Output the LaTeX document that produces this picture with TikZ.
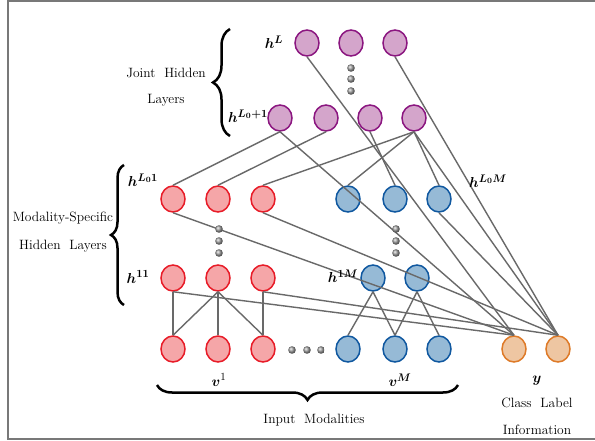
\documentclass[tikz,border=0pt]{standalone}
\usepackage{bm}
\usetikzlibrary{decorations.pathreplacing,shapes.geometric}
\definecolor{jfill}{RGB}{212,165,203}
\definecolor{jdraw}{RGB}{139,22,128}
\definecolor{rfill}{RGB}{245,166,168}
\definecolor{rdraw}{RGB}{232,28,40}
\definecolor{bfill}{RGB}{150,186,214}
\definecolor{bdraw}{RGB}{16,88,160}
\definecolor{ofill}{RGB}{238,198,162}
\definecolor{odraw}{RGB}{222,122,40}
\definecolor{lgray}{RGB}{105,105,105}
\definecolor{fgray}{RGB}{120,120,120}
\begin{document}
\begin{tikzpicture}[x=1pt,y=-1pt,
  neuron/.style={ellipse, minimum width=24pt, minimum height=26pt, line width=1.5pt, inner sep=0pt},
  jnode/.style={neuron, draw=jdraw, fill=jfill},
  rnode/.style={neuron, draw=rdraw, fill=rfill},
  bnode/.style={neuron, draw=bdraw, fill=bfill},
  onode/.style={neuron, draw=odraw, fill=ofill},
  conn/.style={draw=lgray, line width=1.4pt},
  dotball/.style={ball color=gray!75},
  txt/.style={font=\fontsize{13.5}{16}\selectfont, inner sep=0pt},
  mlab/.style={font=\fontsize{15.5}{18}\selectfont, inner sep=0pt},
  bracepath/.style={decorate, decoration={brace, amplitude=#1}, line width=2.5pt}
]
\useasboundingbox (0,0) rectangle (595,441);
\fill[white] (0,0) rectangle (595,441);
\draw[fgray, line width=2.2pt] (598,1.3) -- (8.3,1.3) -- (8.3,439.3) -- (598,439.3);

% joint layers
\node[jnode] (j1a) at (307,43) {};
\node[jnode] (j1b) at (351,43) {};
\node[jnode] (j1c) at (395,43) {};
\node[jnode] (j2a) at (280,118) {};
\node[jnode] (j2b) at (326,118) {};
\node[jnode] (j2c) at (370,118) {};
\node[jnode] (j2d) at (414,118) {};
% modality-specific top
\node[rnode] (r1a) at (173,199) {};
\node[rnode] (r1b) at (218,199) {};
\node[rnode] (r1c) at (263,199) {};
\node[bnode] (b1a) at (348,199) {};
\node[bnode] (b1b) at (395,199) {};
\node[bnode] (b1c) at (439,199) {};
% modality-specific bottom
\node[rnode] (rla) at (173,278) {};
\node[rnode] (rlb) at (218,278) {};
\node[rnode] (rlc) at (263,278) {};
\node[bnode] (bla) at (373,278) {};
\node[bnode] (blb) at (417,278) {};
% inputs
\node[rnode] (ria) at (173,349) {};
\node[rnode] (rib) at (218,349) {};
\node[rnode] (ric) at (263,349) {};
\node[bnode] (bia) at (348,349) {};
\node[bnode] (bib) at (395,349) {};
\node[bnode] (bic) at (439,349) {};
\node[onode] (ya) at (514,349) {};
\node[onode] (yb) at (558,349) {};

% connections
\draw[conn] (j2a.south) -- (r1a.north);
\draw[conn] (j2b.south) -- (r1b.north);
\draw[conn] (j2d.south) -- (r1c.north);
\draw[conn] (j2d.south) -- (b1a.north);
\draw[conn] (j2c.south) -- (b1b.north);
\draw[conn] (j2d.south) -- (b1c.north);
\draw[conn] (j2a.south) -- (ya.north);
\draw[conn] (j2d.south) -- (yb.north);
\draw[conn] (j1a.south) -- (ya.north);
\draw[conn] (j1c.south) -- (yb.north);
\draw[conn] (b1c.south) -- (yb.north);
\draw[conn] (r1a.south) -- (ya.north);
\draw[conn] (r1c.south) -- (yb.north);
\draw[conn] (rla.south) -- (ya.north);
\draw[conn] (rlc.south) -- (yb.north);
\draw[conn] (rla.south) -- (ria.north);
\draw[conn] (rlb.south) -- (ria.north);
\draw[conn] (rlb.south) -- (rib.north);
\draw[conn] (rlb.south) -- (ric.north);
\draw[conn] (rlc.south) -- (ric.north);
\draw[conn] (bla.south) -- (bia.north);
\draw[conn] (bla.south) -- (bib.north);
\draw[conn] (blb.south) -- (bib.north);
\draw[conn] (blb.south) -- (bic.north);

% dots
\foreach \yy in {68,79,91} \shade[dotball] (351,\yy) circle (3.8);
\foreach \yy in {229,241,253} {
  \shade[dotball] (219,\yy) circle (3.8);
  \shade[dotball] (396,\yy) circle (3.8);
}
\foreach \xx in {292,307,321} \shade[dotball] (\xx,350) circle (3.8);

% braces
\draw[bracepath=17pt] (230,136) -- (230,29);
\draw[bracepath=13pt] (124,305) -- (124,165);
\draw[bracepath=15pt] (458,385) -- (157,385);

% math labels
\node[mlab] (lhL) at (274,42) {$\bm{h}^{\bm{L}}$};
\node[mlab] (lhL1) at (248,116) {$\bm{h}^{\bm{L_0+1}}$};
\node[mlab] (lhLo1) at (143,180) {$\bm{h}^{\bm{L_0 1}}$};
\node[mlab] (lh11) at (138,277) {$\bm{h}^{\bm{11}}$};
\node[mlab] (lh1M) at (343,276) {$\bm{h}^{\bm{1M}}$};
\node[mlab] (lhLM) at (488,181) {$\bm{h}^{\bm{L_0M}}$};
\node[mlab] (lv1) at (219,380) {$\bm{v}^{1}$};
\node[mlab] (lvM) at (400,380) {$\bm{v}^{\bm{M}}$};
\node[mlab] (ly) at (537,381) {$\bm{y}$};

% text
\node[txt] (tj1) at (166,73) {Joint\ \ Hidden};
\node[txt] (tj2) at (166,100) {Layers};
\node[txt] (tm1) at (63,218) {Modality-Specific};
\node[txt] (tm2) at (63,246) {Hidden\ \ Layers};
\node[txt] (ti) at (314,420) {Input\ \ Modalities};
\node[txt] (tc1) at (537,403) {Class\ \ Label};
\node[txt] (tc2) at (537,430) {Information};
\end{tikzpicture}
\end{document}
